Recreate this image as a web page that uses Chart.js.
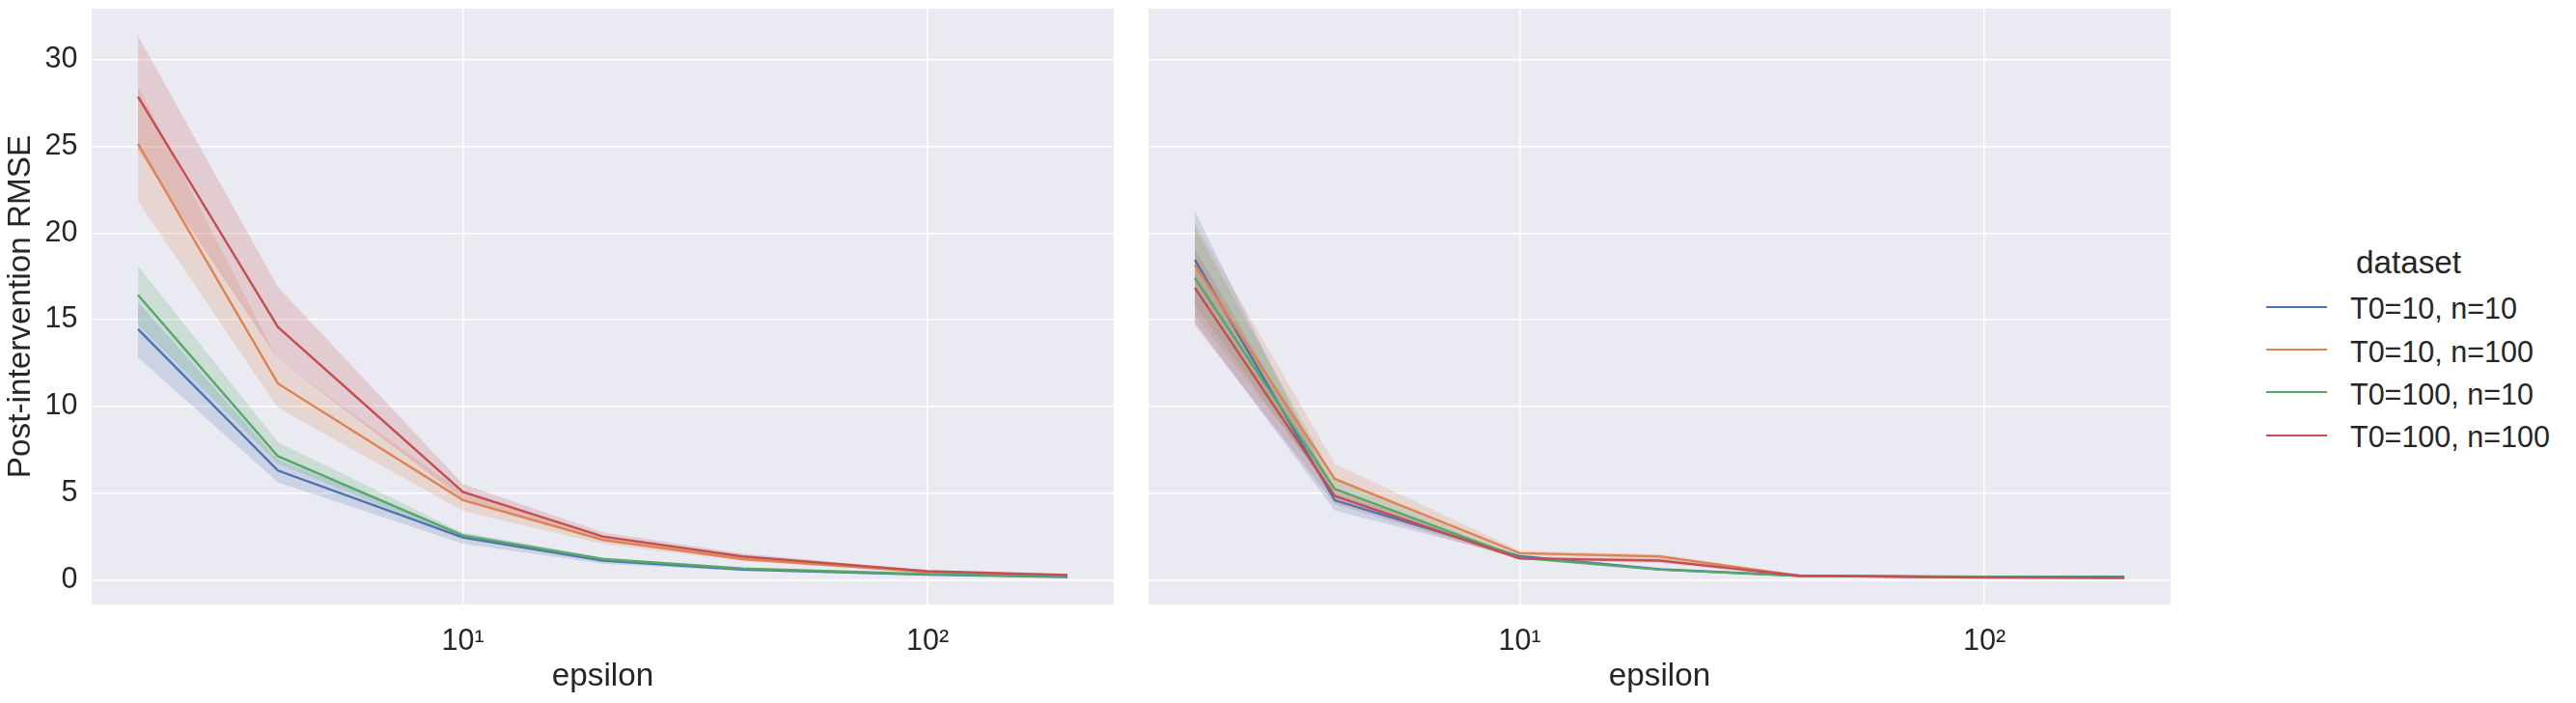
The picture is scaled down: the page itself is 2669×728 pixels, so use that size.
<!DOCTYPE html>
<html lang="en">
<head>
<meta charset="UTF-8">
<title>Post-intervention RMSE vs epsilon</title>
<script src="https://cdn.jsdelivr.net/npm/chart.js@4"></script>
<style>
    html, body {
        margin: 0;
        padding: 0;
        background: #ffffff;
    }
    body {
        position: relative;
        width: 2669px;
        height: 728px;
        overflow: hidden;
        font-family: 'Liberation Sans', Arial, sans-serif;
        color: #262626;
    }
    canvas {
        position: absolute;
        top: 0;
    }
    #leftChart { left: 0; }
    #rightChart { left: 1170px; }
    #legend {
        position: absolute;
        left: 2348px;
        top: 255px;
        width: 295px;
    }
    #legend .title {
        font-size: 33.3px;
        line-height: 33.3px;
        height: 33.3px;
        text-align: center;
        margin-bottom: 16px;
    }
    #legend .row {
        position: relative;
        height: 44.3px;
        font-size: 30.5px;
        line-height: 30.5px;
    }
    #legend .swatch {
        position: absolute;
        left: 0;
        top: 12.5px;
        width: 63px;
        height: 0;
        border-top: 2.5px solid;
    }
    #legend .label {
        position: absolute;
        left: 87px;
        top: 0;
        white-space: nowrap;
    }
</style>
</head>
<body>
<canvas id="leftChart" width="1170" height="728"></canvas>
<canvas id="rightChart" width="1100" height="728"></canvas>
<div id="legend"></div>

<script>
    // epsilon values (x axis, log scale)
    const epsilon = [2, 4, 10, 20, 40, 100, 200];

    const seriesNames = ['T0=10, n=10', 'T0=10, n=100', 'T0=100, n=10', 'T0=100, n=100'];
    const seriesColors = ['#4c72b0', '#dd8452', '#55a868', '#c44e52'];

    const xTickValues = [10, 100];
    const xTickLabels = ['10\u00b9', '10\u00b2'];
    const yTickValues = [0, 5, 10, 15, 20, 25, 30];

    // left panel: mean and confidence band per series
    const leftMeanA = [14.45, 6.30, 2.44, 1.11, 0.59, 0.30, 0.17];
    const leftLowA  = [12.82, 5.62, 2.09, 0.93, 0.52, 0.27, 0.15];
    const leftHighA = [16.01, 6.95, 2.70, 1.28, 0.66, 0.33, 0.19];

    const leftMeanB = [25.14, 11.32, 4.60, 2.31, 1.20, 0.46, 0.24];
    const leftLowB  = [21.82, 9.93, 3.97, 2.07, 1.08, 0.42, 0.22];
    const leftHighB = [28.41, 12.67, 5.05, 2.55, 1.33, 0.50, 0.26];

    const leftMeanC = [16.42, 7.13, 2.55, 1.20, 0.65, 0.33, 0.19];
    const leftLowC  = [14.71, 6.70, 2.40, 1.12, 0.60, 0.31, 0.17];
    const leftHighC = [18.09, 7.95, 2.72, 1.30, 0.71, 0.36, 0.21];

    const leftMeanD = [27.85, 14.58, 5.07, 2.50, 1.35, 0.50, 0.28];
    const leftLowD  = [24.79, 12.70, 4.66, 2.22, 1.20, 0.46, 0.26];
    const leftHighD = [31.36, 16.88, 5.53, 2.74, 1.52, 0.54, 0.30];

    // right panel
    const rightMeanA = [18.45, 4.59, 1.36, 0.61, 0.24, 0.18, 0.19];
    const rightLowA  = [14.85, 4.00, 1.27, 0.56, 0.22, 0.16, 0.17];
    const rightHighA = [21.25, 5.00, 1.45, 0.66, 0.26, 0.20, 0.21];

    const rightMeanB = [18.15, 5.82, 1.54, 1.35, 0.24, 0.15, 0.13];
    const rightLowB  = [15.30, 5.00, 1.38, 1.22, 0.22, 0.13, 0.11];
    const rightHighB = [20.60, 6.69, 1.68, 1.48, 0.27, 0.17, 0.15];

    const rightMeanC = [17.41, 5.24, 1.28, 0.59, 0.24, 0.16, 0.15];
    const rightLowC  = [15.87, 4.75, 1.20, 0.54, 0.22, 0.14, 0.13];
    const rightHighC = [20.30, 5.80, 1.36, 0.64, 0.26, 0.18, 0.17];

    const rightMeanD = [16.83, 4.83, 1.24, 1.11, 0.24, 0.13, 0.11];
    const rightLowD  = [14.67, 4.37, 1.15, 0.98, 0.22, 0.11, 0.09];
    const rightHighD = [19.08, 5.30, 1.34, 1.24, 0.26, 0.15, 0.13];

    const textColor = '#262626';
    Chart.defaults.font.family = "'Liberation Sans', Arial, sans-serif";
    Chart.defaults.color = textColor;

    function hexToRgba(hex, a) {
        const n = parseInt(hex.slice(1), 16);
        return `rgba(${(n >> 16) & 255}, ${(n >> 8) & 255}, ${n & 255}, ${a})`;
    }

    function toPoints(values) {
        return epsilon.map((e, k) => ({ x: e, y: values[k] }));
    }

    // bands go under every line, later series on top (like seaborn)
    function buildDatasets(means, lows, highs) {
        const sets = [];
        seriesNames.forEach((name, i) => {
            sets.push({
                label: name + ' upper',
                data: toPoints(highs[i]),
                borderColor: 'transparent',
                borderWidth: 0,
                pointRadius: 0,
                backgroundColor: hexToRgba(seriesColors[i], 0.2),
                fill: '+1',
                order: 20 - i
            });
            sets.push({
                label: name + ' lower',
                data: toPoints(lows[i]),
                borderColor: 'transparent',
                borderWidth: 0,
                pointRadius: 0,
                fill: false,
                order: 20 - i
            });
            sets.push({
                label: name,
                data: toPoints(means[i]),
                borderColor: seriesColors[i],
                borderWidth: 2.4,
                pointRadius: 0,
                fill: false,
                order: 10 - i
            });
        });
        return sets;
    }

    const plotBackground = {
        id: 'plotBackground',
        beforeDraw(chart) {
            const { ctx, chartArea: a } = chart;
            ctx.save();
            ctx.fillStyle = '#eaeaf2';
            ctx.fillRect(a.left, a.top, a.right - a.left, a.bottom - a.top);
            ctx.restore();
        }
    };

    function makeOptions(showY, padRight) {
        return {
            responsive: false,
            animation: false,
            events: [],
            layout: { padding: { top: 9, right: padRight, bottom: 0, left: 0 } },
            plugins: {
                legend: { display: false },
                tooltip: { enabled: false }
            },
            scales: {
                x: {
                    type: 'logarithmic',
                    min: 1.59,
                    max: 251.5,
                    afterBuildTicks: s => { s.ticks = xTickValues.map(v => ({ value: v })); },
                    afterFit: s => { s.height = 102; s.paddingLeft = 0; s.paddingRight = 0; },
                    border: { display: false },
                    grid: { color: '#ffffff', lineWidth: 1.5, drawTicks: false },
                    ticks: {
                        padding: 20,
                        autoSkip: false,
                        maxRotation: 0,
                        font: { size: 30.5 },
                        color: textColor,
                        callback: v => xTickLabels[xTickValues.indexOf(v)]
                    },
                    title: {
                        display: true,
                        text: 'epsilon',
                        font: { size: 33.3 },
                        color: textColor,
                        padding: { top: 0, bottom: 7.5 }
                    }
                },
                y: {
                    min: -1.42,
                    max: 32.93,
                    afterBuildTicks: s => { s.ticks = yTickValues.map(v => ({ value: v })); },
                    afterFit: s => { s.width = showY ? 95 : 20; s.paddingTop = 0; s.paddingBottom = 0; },
                    border: { display: false },
                    grid: { color: '#ffffff', lineWidth: 1.5, drawTicks: false },
                    ticks: {
                        display: showY,
                        padding: 14.5,
                        font: { size: 30.5 },
                        color: textColor
                    },
                    title: {
                        display: showY,
                        text: 'Post-intervention RMSE',
                        font: { size: 33.3 },
                        color: textColor,
                        padding: { top: 2, bottom: 0 }
                    }
                }
            }
        };
    }

    new Chart(document.getElementById('leftChart'), {
        type: 'line',
        data: {
            datasets: buildDatasets(
                [leftMeanA, leftMeanB, leftMeanC, leftMeanD],
                [leftLowA, leftLowB, leftLowC, leftLowD],
                [leftHighA, leftHighB, leftHighC, leftHighD]
            )
        },
        options: makeOptions(true, 16),
        plugins: [plotBackground]
    });

    new Chart(document.getElementById('rightChart'), {
        type: 'line',
        data: {
            datasets: buildDatasets(
                [rightMeanA, rightMeanB, rightMeanC, rightMeanD],
                [rightLowA, rightLowB, rightLowC, rightLowD],
                [rightHighA, rightHighB, rightHighC, rightHighD]
            )
        },
        options: makeOptions(false, 21),
        plugins: [plotBackground]
    });

    // legend to the right of both panels
    const legend = document.getElementById('legend');
    const title = document.createElement('div');
    title.className = 'title';
    title.textContent = 'dataset';
    legend.appendChild(title);
    seriesNames.forEach((name, i) => {
        const row = document.createElement('div');
        row.className = 'row';
        const swatch = document.createElement('span');
        swatch.className = 'swatch';
        swatch.style.borderTopColor = seriesColors[i];
        const label = document.createElement('span');
        label.className = 'label';
        label.textContent = name;
        row.appendChild(swatch);
        row.appendChild(label);
        legend.appendChild(row);
    });
</script>
</body>
</html>
